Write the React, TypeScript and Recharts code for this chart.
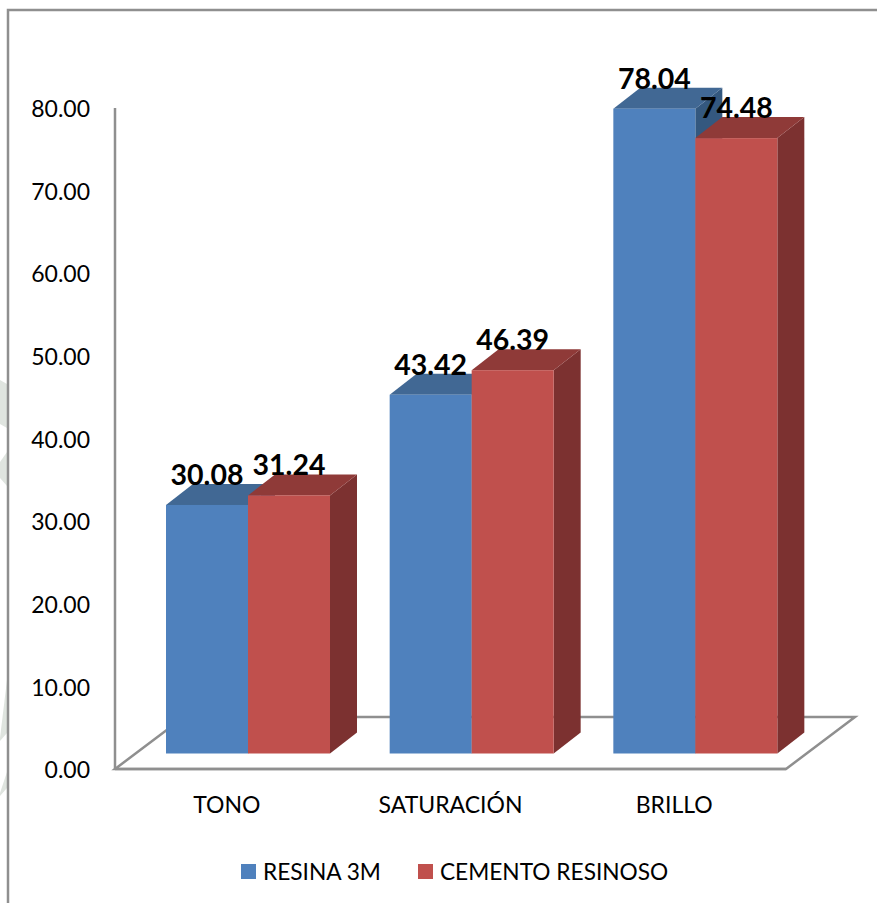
// Barras "3D" de tono, saturación y brillo por material (Recharts BarChart)
import { BarChart, Bar, XAxis, YAxis, Legend, LabelList, Customized } from "recharts";

const categories = ["TONO", "SATURACIÓN", "BRILLO"];
const resina3m = [30.08, 43.42, 78.04];
const cementoResinoso = [31.24, 46.39, 74.48];
const yTicks = [0, 10, 20, 30, 40, 50, 60, 70, 80];

const data = categories.map((name, i) => ({
  name,
  resina: resina3m[i],
  cemento: cementoResinoso[i],
}));

const FONT = "Lato, 'Open Sans', sans-serif";
const GRAY = "#8f8f8f";

// plot box: the axes sit on its left and bottom edges
const PLOT = { left: 115, top: 108, right: 786, bottom: 769 };
// how far the bars stand in from the front of the floor
const SHIFT = { x: 21, y: -15.5 };
// extrusion of each bar
const DEPTH = { x: 27, y: -21 };
// floor recedes a bit more than the bars
const FLOOR = { x: 69, y: -52 };

// soft leftovers of the page background, outside the frame
const backdropMarks = [
  "M0 380 L7 384 L7 428 L0 424 Z",
  "M0 462 L7 452 L7 486 L0 478 Z",
  "M0 738 L7 680 L7 733 L0 741 Z",
  "M0 793 L7 772 L7 788 L0 796 Z",
];

function Bar3D(props: any) {
  const { x, y, width, height, fill, top, side } = props;
  const x0 = x + SHIFT.x;
  const y0 = y + SHIFT.y;
  const x1 = x0 + width;
  const y1 = y0 + height;
  const dx = DEPTH.x;
  const dy = DEPTH.y;
  return (
    <g>
      <polygon points={`${x1},${y0} ${x1 + dx},${y0 + dy} ${x1 + dx},${y1 + dy} ${x1},${y1}`} fill={side} />
      <polygon points={`${x0},${y0} ${x0 + dx},${y0 + dy} ${x1 + dx},${y0 + dy} ${x1},${y0}`} fill={top} />
      <rect x={x0} y={y0} width={width} height={height} fill={fill} />
    </g>
  );
}

function ValueLabel(props: any) {
  const { x, y, width, value } = props;
  return (
    <text
      x={x + SHIFT.x + width / 2}
      y={y + SHIFT.y - 20}
      textAnchor="middle"
      fontFamily={FONT}
      fontSize={28.5}
      fontWeight={700}
      fill="#000"
    >
      {Number(value).toFixed(2)}
    </text>
  );
}

function Backdrop() {
  const { left, right, bottom } = PLOT;
  const fb = bottom + FLOOR.y;
  return (
    <g>
      {backdropMarks.map((d, i) => (
        <path key={i} d={d} fill="#dfe4df" />
      ))}
      <polyline points="8,903 8,10 877,10" fill="none" stroke={GRAY} strokeWidth={2.5} />
      <polygon
        points={`${left},${bottom} ${left + FLOOR.x},${fb} ${right + FLOOR.x},${fb} ${right},${bottom}`}
        fill="none"
        stroke={GRAY}
        strokeWidth={2.5}
      />
    </g>
  );
}

function LegendRow({ payload }: any) {
  return (
    <div style={{ display: "flex", justifyContent: "flex-start", paddingLeft: 241, fontFamily: FONT, fontSize: 22.7 }}>
      {(payload ?? []).map((item: any, i: number) => (
        <div key={i} style={{ display: "flex", alignItems: "center", marginRight: 37, color: "#000" }}>
          <span style={{ width: 15, height: 15, background: item.color, marginRight: 7 }} />
          <span>{item.value}</span>
        </div>
      ))}
    </div>
  );
}

export default function App() {
  return (
    <div style={{ position: "absolute", left: 0, top: 0, width: 877, height: 903, background: "#fff" }}>
      <BarChart
        width={877}
        height={903}
        data={data}
        barCategoryGap={30}
        barGap={0}
        margin={{ top: PLOT.top, right: 877 - PLOT.right, bottom: 903 - PLOT.bottom - 50, left: PLOT.left - 80 }}
      >
        <Customized component={Backdrop} />
        <XAxis
          dataKey="name"
          height={50}
          interval={0}
          tickLine={false}
          tickMargin={22}
          axisLine={{ stroke: GRAY, strokeWidth: 2.5 }}
          tick={{ fontFamily: FONT, fontSize: 23, fill: "#000" }}
        />
        <YAxis
          width={80}
          domain={[0, 80]}
          ticks={yTicks}
          tickLine={false}
          tickSize={0}
          tickMargin={25}
          tickFormatter={(v: number) => v.toFixed(2)}
          axisLine={{ stroke: GRAY, strokeWidth: 2.5 }}
          tick={{ fontFamily: FONT, fontSize: 23, fill: "#000", dy: 1 }}
        />
        <Legend
          layout="horizontal"
          verticalAlign="middle"
          itemSorter={null}
          wrapperStyle={{ top: 858, left: 0, width: 877 }}
          content={<LegendRow />}
        />
        <Bar
          dataKey="resina"
          name="RESINA 3M"
          fill="#4F81BD"
          isAnimationActive={false}
          shape={(p: any) => <Bar3D {...p} top="#416894" side="#34587F" />}
        >
          <LabelList dataKey="resina" content={<ValueLabel />} />
        </Bar>
        <Bar
          dataKey="cemento"
          name="CEMENTO RESINOSO"
          fill="#C0504D"
          isAnimationActive={false}
          shape={(p: any) => <Bar3D {...p} top="#8F3A38" side="#7C3130" />}
        >
          <LabelList dataKey="cemento" content={<ValueLabel />} />
        </Bar>
      </BarChart>
    </div>
  );
}
